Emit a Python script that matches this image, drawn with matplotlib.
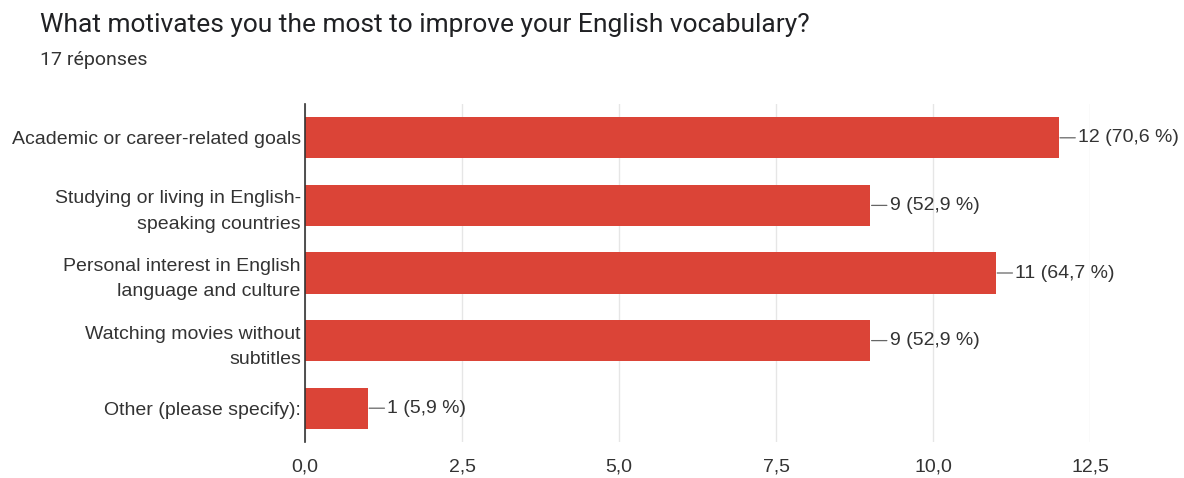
import matplotlib
matplotlib.use("Agg")
import matplotlib.pyplot as plt

title = "What motivates you the most to improve your English vocabulary?"
subtitle = "17 réponses"
categories = [
    "Academic or career-related goals",
    "Studying or living in English-\nspeaking countries",
    "Personal interest in English\nlanguage and culture",
    "Watching movies without\nsubtitles",
    "Other (please specify):",
]
counts = [12, 9, 11, 9, 1]
value_labels = ["12 (70,6 %)", "9 (52,9 %)", "11 (64,7 %)", "9 (52,9 %)", "1 (5,9 %)"]
xticks = [0, 2.5, 5.0, 7.5, 10.0, 12.5]
xtick_labels = ["0,0", "2,5", "5,0", "7,5", "10,0", "12,5"]

bar_color = "#db4437"
text_color = "#333333"
font = ["Liberation Sans", "DejaVu Sans"]
fs = 14

fig = plt.figure(figsize=(11.84, 4.78), dpi=100)
ax = fig.add_axes([305/1184, 1 - 442/478, (1090 - 305)/1184, 338/478])

ypos = list(range(len(categories)))
ax.barh(ypos, counts, height=0.61, color=bar_color, zorder=3)
ax.set_ylim(len(categories) - 0.5, -0.5)
ax.set_xlim(0, 12.5)

ax.set_yticks(ypos)
ax.set_yticklabels(categories, fontsize=fs, color=text_color, family=font, linespacing=1.65)
ax.set_xticks(xticks)
ax.set_xticklabels(xtick_labels, fontsize=fs, color=text_color, family=font)
ax.tick_params(axis="y", length=0, pad=3)
ax.tick_params(axis="x", length=0, pad=12)

ax.grid(axis="x", color="#e6e6e6", linewidth=1, zorder=0)
for s in ["top", "right", "bottom"]:
    ax.spines[s].set_visible(False)
ax.spines["left"].set_color("#333333")
ax.spines["left"].set_linewidth(1.2)
ax.spines["left"].set_zorder(4)

for y, v, lab in zip(ypos, counts, value_labels):
    ax.annotate(lab, xy=(v, y), xytext=(14, 0), textcoords="offset points",
                ha="left", va="center", fontsize=fs, color=text_color, family=font,
                arrowprops=dict(arrowstyle="-", color="#666666", lw=0.9,
                                shrinkA=0, shrinkB=1.0))

fig.text(40/1184, 1 - 25/478, title, fontsize=19, color="#202124",
         family=["Roboto", "DejaVu Sans"], va="center", ha="left")
fig.text(40/1184, 1 - 60/478, subtitle, fontsize=14, color="#333333",
         family=["Roboto", "DejaVu Sans"], va="center", ha="left")

fig.savefig("out.png", dpi=100, facecolor="white")
